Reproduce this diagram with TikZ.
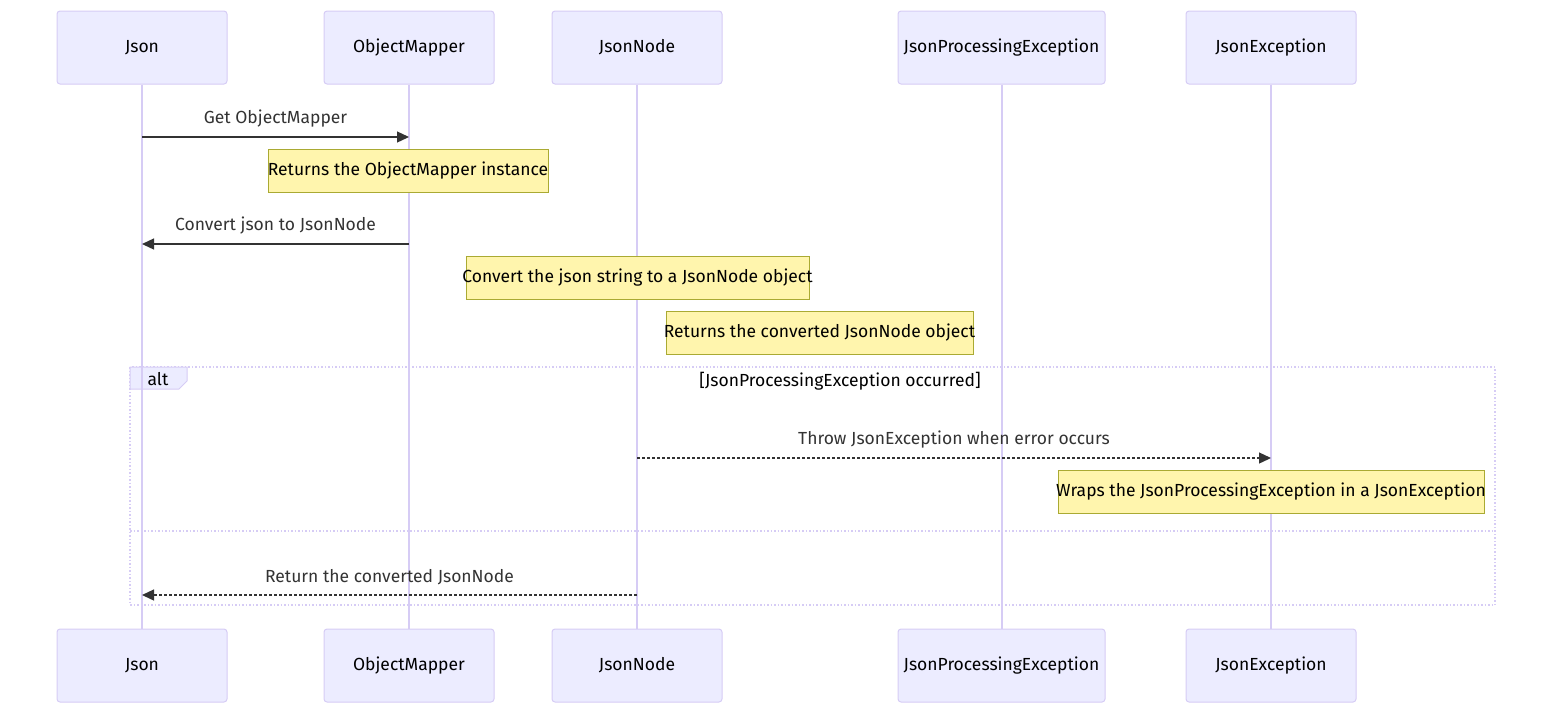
\documentclass[tikz,border=0pt]{standalone}
\usepackage{fontspec}
\setmainfont{Fira Sans}
\usetikzlibrary{arrows.meta}
\definecolor{actorfill}{HTML}{ECECFF}
\definecolor{actorline}{HTML}{D6CCF5}
\definecolor{notefill}{HTML}{FFF5AD}
\definecolor{noteline}{HTML}{AAAA33}
\definecolor{msgtext}{HTML}{333333}
\newcommand{\notetext}[1]{\makebox[0pt]{#1}}

\begin{document}
\begin{tikzpicture}[%
      x=1pt, y=-1pt,
      font=\fontsize{17.5}{21}\selectfont,
      actor/.style={draw=actorline, fill=actorfill, rounded corners=3pt, line width=1pt,
                    minimum width=170pt, minimum height=73pt, text=black},
      lifeline/.style={draw=actorline, line width=2pt},
      note/.style={draw=noteline, fill=notefill, line width=1pt, minimum height=43pt,
                   inner xsep=0pt, text=black},
      msg/.style={draw=msgtext, line width=1.3pt, -{Triangle[length=12pt,width=11pt]}},
      reply/.style={msg, dash pattern=on 3pt off 2pt},
      msglabel/.style={text=msgtext},
      frame/.style={draw=actorline, line width=1.5pt, dash pattern=on 1.5pt off 2pt},
      ]
      \useasboundingbox (0,0) rectangle (1568,724);

      % actors, top and bottom
      \node[actor] (json)   at (142,47.5)  {Json};
      \node[actor] (mapper) at (409,47.5)  {ObjectMapper};
      \node[actor] (node)   at (637,47.5)  {JsonNode};
      \node[actor, minimum width=207pt] (jpe) at (1001.5,47.5) {JsonProcessingException};
      \node[actor] (jex)    at (1271,47.5) {JsonException};
      \node[actor] (jsonB)   at (142,665.5)  {Json};
      \node[actor] (mapperB) at (409,665.5)  {ObjectMapper};
      \node[actor] (nodeB)   at (637,665.5)  {JsonNode};
      \node[actor, minimum width=207pt] (jpeB) at (1001.5,665.5) {JsonProcessingException};
      \node[actor] (jexB)    at (1271,665.5) {JsonException};

      % alt frame
      \draw[frame] (130,367) rectangle (1495,605);
      \draw[frame] (130,531) -- (1495,531);
      \filldraw[draw=actorline, fill=actorfill, line width=1pt]
            (130,367) -- (187,367) -- (187,381) -- (179,389) -- (130,389) -- cycle;
      \node (alt) at (158,379) {alt};
      \node (cond) at (840,381) {[JsonProcessingException occurred]};

      % lifelines
      \foreach \a in {json,mapper,node,jpe,jex}
        \draw[lifeline] (\a.south) -- (\a B.north);

      % message end points
      \coordinate (m1a) at (142,137);  \coordinate (m1b) at (409,137);
      \coordinate (m2a) at (409,244);  \coordinate (m2b) at (142,244);
      \coordinate (m3a) at (637,458);  \coordinate (m3b) at (1271,458);
      \coordinate (m4a) at (637,595);  \coordinate (m4b) at (142,595);

      \draw[msg] (m1a) -- (m1b);
      \node[msglabel] (l1) at (275.5,119) {Get ObjectMapper};
      \node[note, minimum width=280pt] (n1) at (408,170.5) {\notetext{Returns the ObjectMapper instance}};

      \draw[msg] (m2a) -- (m2b);
      \node[msglabel] (l2) at (275.5,226) {Convert json to JsonNode};
      \node[note, minimum width=343pt] (n2) at (637.5,277.5) {\notetext{Convert the json string to a JsonNode object}};
      \node[note, minimum width=307pt] (n3) at (819.5,333) {\notetext{Returns the converted JsonNode object}};

      \draw[reply] (m3a) -- (m3b);
      \node[msglabel] (l3) at (954,440) {Throw JsonException when error occurs};
      \node[note, minimum width=426pt] (n4) at (1271,491.5) {\notetext{Wraps the JsonProcessingException in a JsonException}};

      \draw[reply] (m4a) -- (m4b);
      \node[msglabel] (l4) at (389.5,577) {Return the converted JsonNode};
\end{tikzpicture}
\end{document}
